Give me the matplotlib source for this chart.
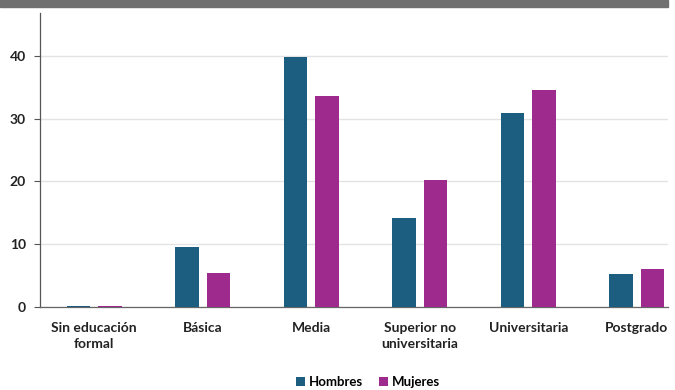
import numpy as np
import matplotlib.pyplot as plt
from matplotlib.patches import Rectangle

plt.rcParams['font.family'] = ['Lato', 'DejaVu Sans']

categorias = ['Sin educación\nformal', 'Básica', 'Media',
              'Superior no\nuniversitaria', 'Universitaria', 'Postgrado']
hombres = [0.2, 9.6, 39.8, 14.2, 30.9, 5.3]
mujeres = [0.1, 5.4, 33.6, 20.2, 34.6, 6.1]

c_h = '#1b5e80'
c_m = '#9e2a8e'

fig = plt.figure(figsize=(6.75, 3.9), dpi=100)
ax = fig.add_axes([40/675, 1 - 307/390, 628/675, 294/390])

# banda gris superior
fig.patches.append(Rectangle((0, 1 - 7/390), 668/675, 7/390,
                             transform=fig.transFigure, color='#707070', zorder=0))

x = np.arange(len(categorias))
w = 0.22
ax.bar(x - 0.145, hombres, w, color=c_h, label='Hombres', zorder=3)
ax.bar(x + 0.145, mujeres, w, color=c_m, label='Mujeres', zorder=3)

ax.set_xlim(-0.5, -0.5 + 628/108.5)
ax.set_ylim(0, 46.85)
ax.set_yticks([0, 10, 20, 30, 40])
ax.yaxis.grid(True, color='#e3e3e3', linewidth=1, zorder=0)
ax.set_axisbelow(True)

for s in ['top', 'right']:
    ax.spines[s].set_visible(False)
ax.spines['left'].set_color('#555555')
ax.spines['bottom'].set_color('#666666')
ax.spines['left'].set_linewidth(0.9)
ax.spines['bottom'].set_linewidth(0.9)

ax.set_xticks(x)
ax.set_xticklabels(categorias, fontsize=10, fontweight='bold', color='#222222',
                   linespacing=1.35)
ax.tick_params(axis='x', length=0, pad=11)
ax.tick_params(axis='y', length=4, width=0.8, color='#555555', labelsize=10,
               labelcolor='#222222', pad=6)
for t in ax.get_yticklabels():
    t.set_fontweight('bold')

fig.legend(loc='center', bbox_to_anchor=(368/675, 1 - 382/390), ncol=2,
           frameon=False, handlelength=0.7, handleheight=0.7,
           handletextpad=0.3, columnspacing=1.2,
           prop={'weight': 'bold', 'size': 9.5})

fig.savefig('out.png', dpi=100)
